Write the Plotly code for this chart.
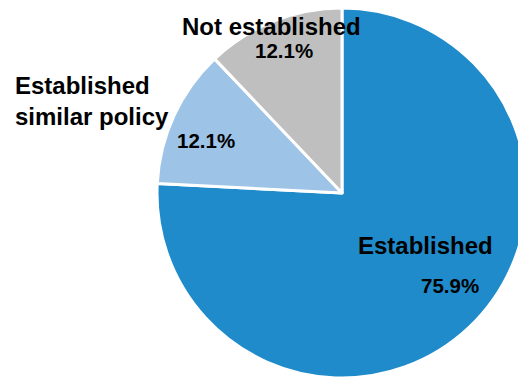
import plotly.graph_objects as go

labels = ["Established", "Established similar policy", "Not established"]
label_text = ["Established", "Established<br>similar policy", "Not established"]
values = [75.9, 12.1, 12.1]
colors = ["#1F8BCA", "#9DC3E6", "#BFBFBF"]

W, H = 526, 378
OFF = 8  # default page body margin

fig = go.Figure(go.Pie(
    labels=labels, values=values, sort=False, direction="clockwise", rotation=0,
    marker=dict(colors=colors, line=dict(color="white", width=3)),
    textinfo="none", hoverinfo="label+percent", showlegend=False,
    domain=dict(x=[149 / W, 519 / W], y=[8 / H, 1.0]),
))

font_lbl = dict(family="Liberation Sans, Arial, sans-serif", size=24, color="black")
font_pct = dict(family="Liberation Sans, Arial, sans-serif", size=20.5, color="black")

def px(x, y):
    return (x - OFF) / W, 1 - (y - OFF) / H

# (label position, pct position, label align) in screen pixels
pos = [
    ((425, 245), (450, 285), "center"),
    ((13, 101), (206, 140), "left"),
    ((271, 27), (284, 50), "center"),
]
for lab, v, (lp, pp, al) in zip(label_text, values, pos):
    lx, ly = px(*lp)
    fig.add_annotation(x=lx, y=ly, xref="paper", yref="paper", text=f"<b>{lab}</b>",
                       showarrow=False, font=font_lbl, align=al,
                       xanchor="left" if al == "left" else "center", yanchor="middle")
    qx, qy = px(*pp)
    fig.add_annotation(x=qx, y=qy, xref="paper", yref="paper", text=f"<b>{v:.1f}%</b>",
                       showarrow=False, font=font_pct, xanchor="center", yanchor="middle")

fig.update_layout(width=W, height=H, margin=dict(l=0, r=0, t=0, b=0),
                  paper_bgcolor="white", plot_bgcolor="white")

fig.write_html("out.html")
